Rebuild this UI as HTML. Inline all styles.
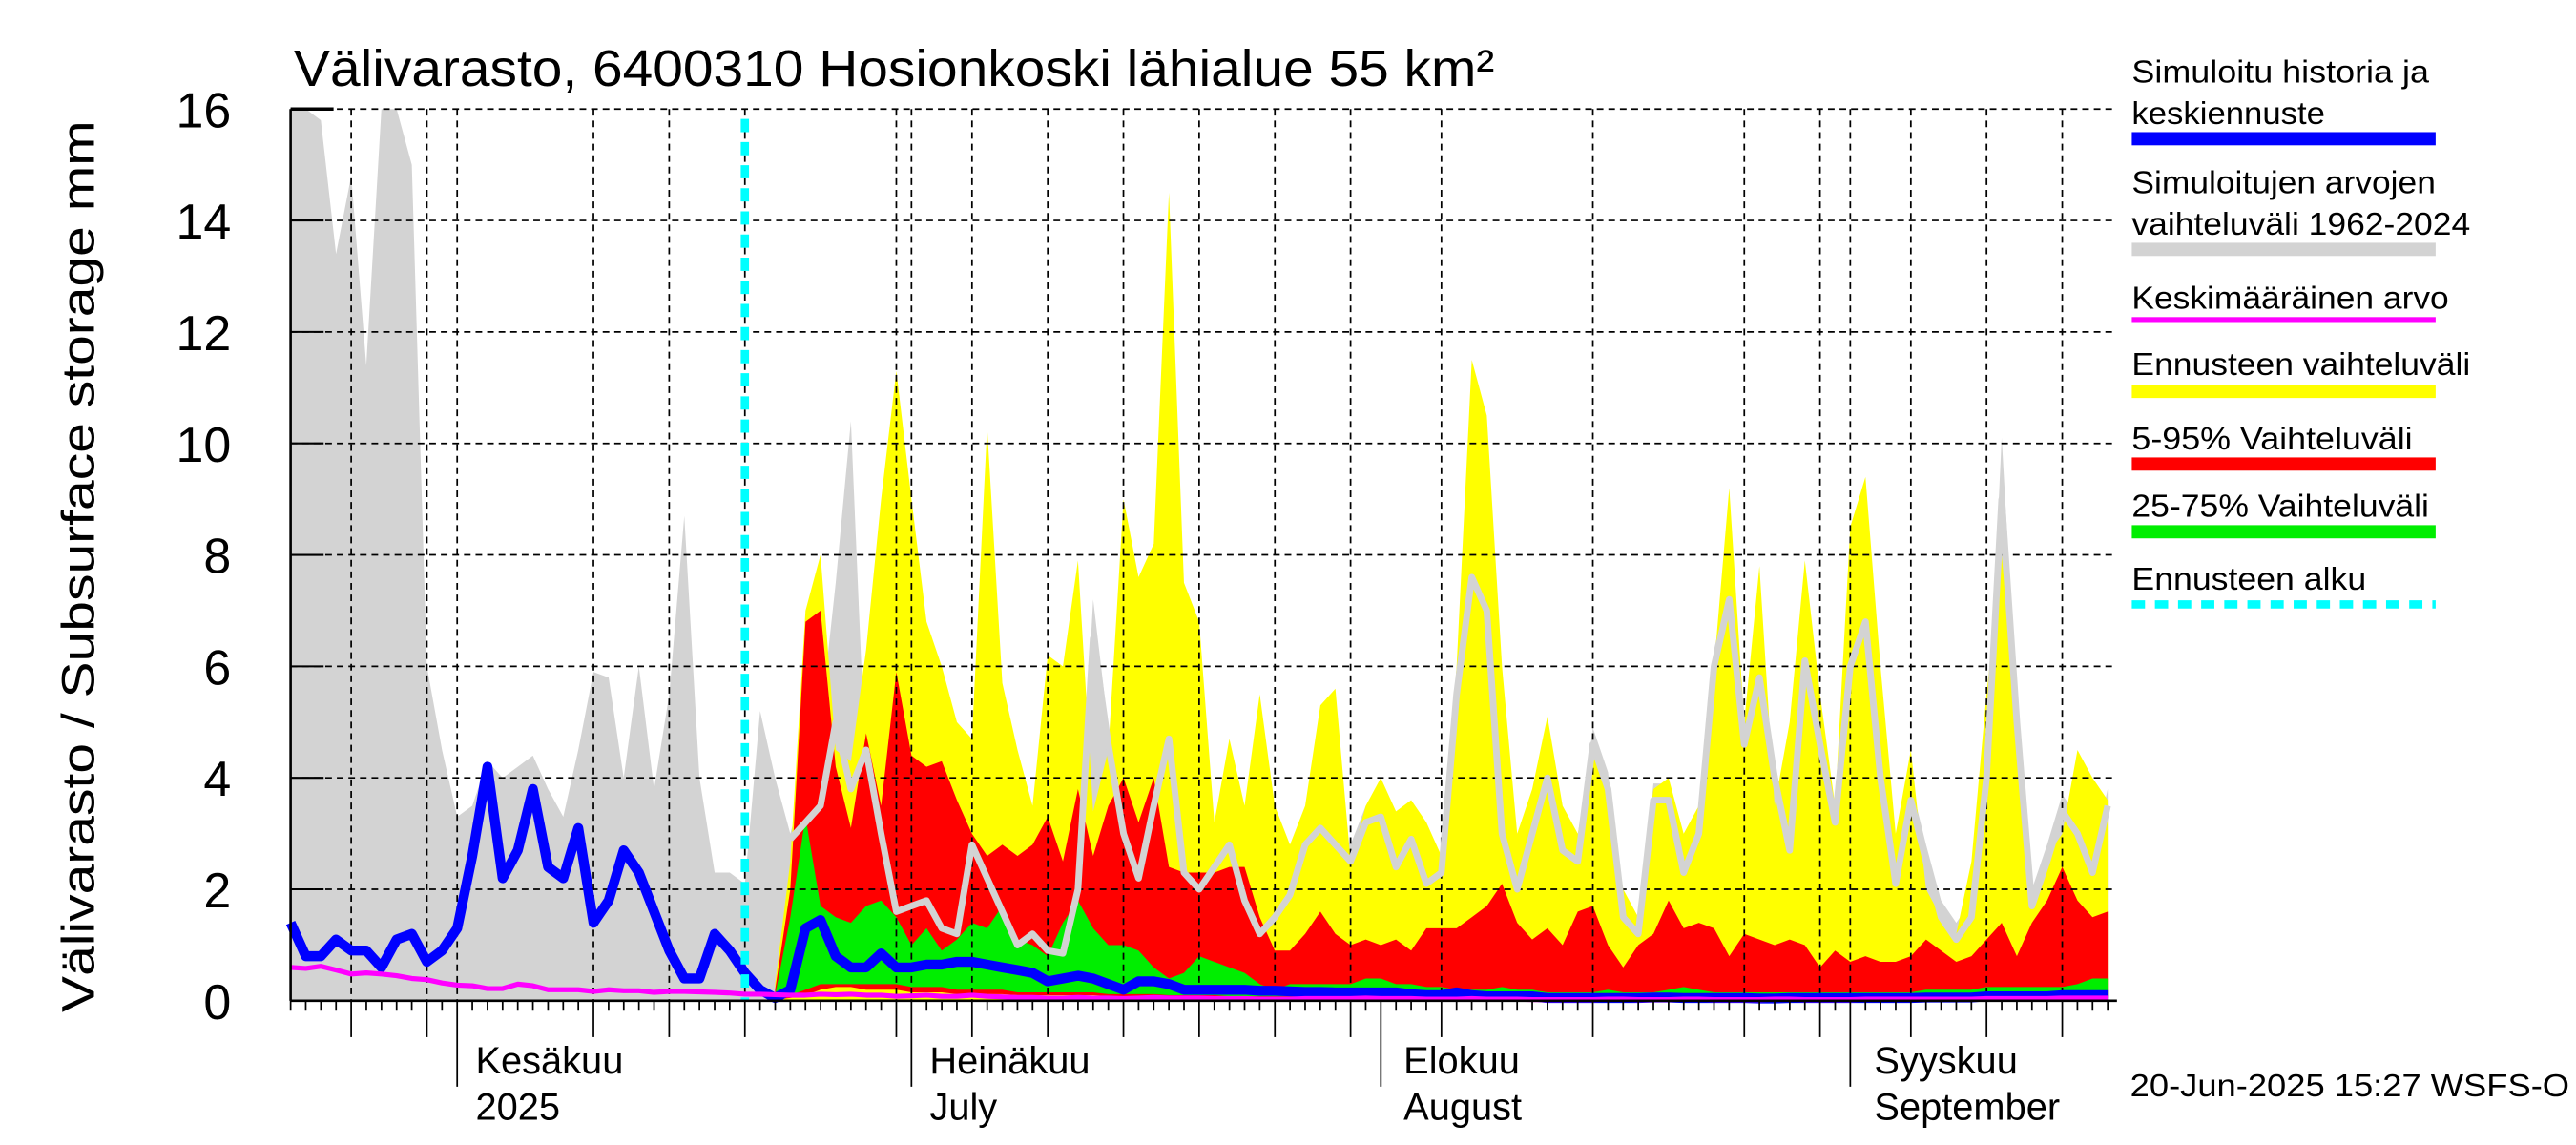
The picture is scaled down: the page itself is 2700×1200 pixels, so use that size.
<!DOCTYPE html>
<html><head><meta charset="utf-8"><style>
html,body{margin:0;padding:0;background:#fff;}
svg{display:block;font-family:"Liberation Sans",sans-serif;}
</style></head><body>
<svg id="chart" width="2700" height="1200" viewBox="0 0 1560 693.33" preserveAspectRatio="none" xmlns="http://www.w3.org/2000/svg">
<text x="178" y="52" font-size="31" textLength="727" lengthAdjust="spacingAndGlyphs">Välivarasto, 6400310 Hosionkoski lähialue 55 km²</text>
<text transform="translate(57,343) rotate(-90)" text-anchor="middle" font-size="28" textLength="540" lengthAdjust="spacingAndGlyphs">Välivarasto / Subsurface storage  mm</text>
<g id="fills"></g><g id="grid"></g><g id="lines"></g><g id="axes"></g>
<g font-size="19">
<text x="1291" y="50" textLength="180" lengthAdjust="spacingAndGlyphs">Simuloitu historia ja</text>
<text x="1291" y="75" textLength="117" lengthAdjust="spacingAndGlyphs">keskiennuste</text>
<rect x="1291" y="80" width="184" height="8" fill="#0000ff"/>
<text x="1291" y="117" textLength="184" lengthAdjust="spacingAndGlyphs">Simuloitujen arvojen</text>
<text x="1291" y="142" textLength="205" lengthAdjust="spacingAndGlyphs">vaihteluväli 1962-2024</text>
<rect x="1291" y="147" width="184" height="8" fill="#d3d3d3"/>
<text x="1291" y="187" textLength="192" lengthAdjust="spacingAndGlyphs">Keskimääräinen arvo</text>
<rect x="1291" y="192" width="184" height="3" fill="#ff00ff"/>
<text x="1291" y="227" textLength="205" lengthAdjust="spacingAndGlyphs">Ennusteen vaihteluväli</text>
<rect x="1291" y="233" width="184" height="8" fill="#ffff00"/>
<text x="1291" y="272" textLength="170" lengthAdjust="spacingAndGlyphs">5-95% Vaihteluväli</text>
<rect x="1291" y="277" width="184" height="8" fill="#ff0000"/>
<text x="1291" y="313" textLength="180" lengthAdjust="spacingAndGlyphs">25-75% Vaihteluväli</text>
<rect x="1291" y="318" width="184" height="8" fill="#00ee00"/>
<text x="1291" y="357" textLength="142" lengthAdjust="spacingAndGlyphs">Ennusteen alku</text>
<line x1="1291" y1="366" x2="1475" y2="366" stroke="#00ffff" stroke-width="5" stroke-dasharray="8,6"/>
</g>
<g font-size="23">
<text x="288" y="650">Kesäkuu</text><text x="288" y="678">2025</text>
<text x="563" y="650">Heinäkuu</text><text x="563" y="678">July</text>
<text x="850" y="650">Elokuu</text><text x="850" y="678">August</text>
<text x="1135" y="650">Syyskuu</text><text x="1135" y="678">September</text>
</g>
<text x="1290" y="664" font-size="19" textLength="266" lengthAdjust="spacingAndGlyphs">20-Jun-2025 15:27 WSFS-O</text>
</svg>
<script>
const yTicks=[0,2,4,6,8,10,12,14,16];
const forecastStartDay=30;
const fcOffset=32;
const greyMax=[16,16,15.8,13.4,14.8,11.4,16,16,15,6,4.5,3.3,3.5,4.3,4.0,4.2,4.4,3.8,3.3,4.5,5.9,5.8,4.0,6.0,3.8,5.5,8.7,4.0,2.3,2.3,2.1,5.2,4.0,3.0,4.0,5.0,7.5,10.4,4.0,4.5,3.8,
2.0,2.1,1.6,1.5,3.1,2.5,1.9,1.3,1.5,1.2,
1.1,2.3,7.2,4.9,3.3,2.5,3.8,5.0,2.6,2.3,
2.7,3.1,2.1,1.5,1.8,2.2,3.1,3.4,3.1,2.8,
3.5,3.6,2.7,3.2,2.4,2.6,5.8,7.9,7.3,3.3,
2.3,3.3,4.3,3.0,2.8,4.9,4.1,1.8,1.5,3.9,
3.9,2.6,3.3,6.3,7.5,4.9,6.1,4.3,3.0,6.4,
4.9,3.5,6.3,7.1,4.3,2.4,3.9,2.8,1.8,1.4,
1.8,4.3,10.1,5.3,2.0,2.8,3.7,3.3,2.6,3.8];
const yellowMax=[0.3,2.5,7.0,8.0,4.5,4.3,6.3,9.0,11.3,9.0,
6.8,6.0,5.0,4.7,10.3,5.7,4.5,3.5,6.2,6.0,
7.9,3.4,4.5,9.0,7.6,8.2,14.5,7.5,6.8,3.2,
4.7,3.5,5.5,3.5,2.8,3.5,5.3,5.6,2.5,3.5,
4.0,3.4,3.6,3.2,2.6,6.0,11.5,10.5,6.0,3.0,
3.8,5.1,3.5,3.0,4.5,3.8,2.0,1.5,3.8,4.0,
3.0,3.5,6.0,9.2,5.0,7.8,3.5,5.0,7.9,5.5,
3.5,8.5,9.4,6.0,3.0,4.5,2.0,1.5,1.2,2.5,
5.5,8.0,5.0,1.8,2.6,3.0,4.5,4.0,3.6];
const red95=[0.2,2.0,6.8,7.0,4.2,3.1,4.8,3.5,5.9,4.4,
4.2,4.3,3.6,3.0,2.6,2.8,2.6,2.8,3.3,2.5,
3.8,2.6,3.5,4.0,3.2,4.0,2.4,2.3,2.3,2.3,
2.4,2.4,1.5,0.9,0.9,1.2,1.6,1.2,1.0,1.1,
1.0,1.1,0.9,1.3,1.3,1.3,1.5,1.7,2.1,1.4,
1.1,1.3,1.0,1.6,1.7,1.0,0.6,1.0,1.2,1.8,
1.3,1.4,1.3,0.8,1.2,1.1,1.0,1.1,1.0,0.6,
0.9,0.7,0.8,0.7,0.7,0.8,1.1,0.9,0.7,0.8,
1.1,1.4,0.8,1.4,1.8,2.4,1.8,1.5,1.6];
const red5=[0.02,0.05,0.1,0.2,0.25,0.25,0.2,0.2,0.2,0.15,
0.15,0.15,0.12,0.12,0.12,0.12,0.1,0.1,0.1,0.1,
0.1,0.1,0.08,0.08,0.08,0.08,0.08,0.08,0.08,0.08,
0.06,0.06,0.06,0.06,0.06,0.06,0.06,0.06,0.06,0.06,
0.06,0.06,0.06,0.05,0.05,0.05,0.05,0.05,0.05,0.05,
0.05,0.05,0.05,0.05,0.05,0.05,0.05,0.05,0.05,0.05,
0.05,0.05,0.05,0.05,0.05,0.05,0.05,0.05,0.05,0.05,
0.05,0.05,0.05,0.05,0.05,0.05,0.05,0.05,0.05,0.05,
0.05,0.05,0.05,0.05,0.05,0.05,0.05,0.05,0.05];
const green75=[0.1,1.5,3.3,1.7,1.5,1.4,1.7,1.8,1.5,1.0,
1.3,0.9,1.1,1.4,1.3,1.7,1.1,1.0,0.8,1.4,
1.8,1.3,1.0,1.0,0.9,0.6,0.4,0.5,0.8,0.7,
0.6,0.5,0.3,0.2,0.3,0.3,0.3,0.3,0.3,0.4,
0.4,0.3,0.3,0.25,0.25,0.2,0.2,0.2,0.25,0.2,
0.2,0.15,0.15,0.15,0.15,0.2,0.15,0.15,0.15,0.2,
0.25,0.2,0.15,0.15,0.15,0.15,0.15,0.15,0.15,0.15,
0.15,0.15,0.15,0.15,0.15,0.15,0.2,0.2,0.2,0.2,
0.25,0.25,0.25,0.25,0.25,0.25,0.3,0.4,0.4];
const green25=[0.05,0.1,0.2,0.3,0.3,0.3,0.3,0.3,0.3,0.25,
0.25,0.25,0.2,0.2,0.2,0.2,0.15,0.15,0.15,0.15,
0.15,0.15,0.12,0.12,0.12,0.12,0.1,0.1,0.1,0.1,
0.08,0.08,0.08,0.08,0.08,0.08,0.08,0.08,0.08,0.08,
0.08,0.08,0.08,0.07,0.07,0.07,0.07,0.07,0.07,0.07,
0.07,0.07,0.07,0.07,0.07,0.07,0.07,0.07,0.07,0.07,
0.07,0.07,0.07,0.07,0.07,0.07,0.07,0.07,0.07,0.07,
0.07,0.07,0.07,0.07,0.07,0.07,0.07,0.07,0.07,0.07,
0.07,0.07,0.07,0.07,0.07,0.07,0.08,0.08,0.08];
const greyLineOffset=33;
const greyLine=[2.9,3.2,3.5,5.0,3.8,4.5,3.0,1.6,1.7,1.8,
1.3,1.2,2.8,2.2,1.6,1.0,1.2,0.9,0.85,2.0,
6.5,4.6,3.0,2.2,3.5,4.7,2.3,2.0,2.4,2.8,
1.8,1.2,1.5,1.9,2.8,3.1,2.8,2.5,3.2,3.3,
2.4,2.9,2.1,2.3,5.5,7.6,7.0,3.0,2.0,3.0,
4.0,2.7,2.5,4.6,3.8,1.5,1.2,3.6,3.6,2.3,
3.0,6.0,7.2,4.6,5.8,4.0,2.7,6.1,4.6,3.2,
6.0,6.8,4.0,2.1,3.6,2.5,1.5,1.1,1.5,4.0,
9.0,5.0,1.7,2.5,3.4,3.0,2.3,3.5];
const blueMedian=[1.4,0.8,0.8,1.1,0.9,0.9,0.6,1.1,1.2,0.7,
0.9,1.3,2.6,4.2,2.2,2.7,3.8,2.4,2.2,3.1,
1.4,1.8,2.7,2.3,1.6,0.9,0.4,0.4,1.2,0.9,
0.5,0.2,0.05,0.2,1.3,1.45,0.8,0.6,0.6,0.85,
0.6,0.6,0.65,0.65,0.7,0.7,0.65,0.6,0.55,0.5,
0.35,0.4,0.45,0.4,0.3,0.2,0.35,0.35,0.3,0.2,
0.2,0.2,0.2,0.2,0.18,0.18,0.17,0.16,0.16,0.15,
0.15,0.15,0.15,0.15,0.12,0.1,0.1,0.15,0.1,0.08,
0.08,0.08,0.08,0.05,0.05,0.05,0.05,0.05,0.05,0.05,
0.06,0.06,0.05,0.05,0.05,0.05,0.05,0.04,0.04,0.05,
0.05,0.05,0.05,0.05,0.05,0.05,0.05,0.05,0.06,0.06,
0.06,0.06,0.08,0.08,0.08,0.08,0.08,0.1,0.1,0.1,0.1];
const meanValue=[0.6,0.58,0.62,0.55,0.48,0.5,0.48,0.45,0.4,0.38,
0.32,0.28,0.27,0.22,0.22,0.3,0.27,0.2,0.2,0.2,
0.17,0.2,0.18,0.18,0.15,0.17,0.17,0.16,0.15,0.14,
0.12,0.12,0.11,0.1,0.1,0.12,0.11,0.12,0.1,0.1,
0.08,0.09,0.1,0.08,0.08,0.1,0.08,0.07,0.06,0.06,
0.05,0.05,0.06,0.05,0.05,0.04,0.05,0.06,0.05,0.05,
0.05,0.04,0.04,0.04,0.03,0.03,0.03,0.04,0.04,0.04,
0.04,0.05,0.04,0.04,0.04,0.03,0.03,0.03,0.04,0.03,
0.03,0.03,0.02,0.02,0.02,0.02,0.02,0.03,0.03,0.02,
0.02,0.02,0.03,0.03,0.02,0.02,0.02,0.02,0.03,0.03,
0.02,0.02,0.02,0.02,0.03,0.03,0.03,0.03,0.03,0.03,
0.03,0.03,0.04,0.04,0.04,0.04,0.04,0.05,0.05,0.05,0.05];
const monthStartDays=[11,41,72,103];
const gridDays=[4,9,11,20,25,30,40,41,45,50,55,60,65,70,76,86,96,101,103,107,112,117];

const NS="http://www.w3.org/2000/svg";
const X0=176,DX=9.17,Y0=606,DY=33.75,XL=176,XR=1282;
const xs=d=>X0+d*DX;
const ys=v=>Y0-Math.min(v,16)*DY;
function mk(tag,attrs,parent){const e=document.createElementNS(NS,tag);for(const k in attrs)e.setAttribute(k,attrs[k]);parent.appendChild(e);return e;}
const fills=document.getElementById('fills'),grid=document.getElementById('grid'),lines=document.getElementById('lines'),axes=document.getElementById('axes');
function band(upper,lower,off,color,name){
  let p=[];
  for(let i=0;i<upper.length;i++)p.push(xs(i+off).toFixed(1)+','+ys(upper[i]).toFixed(1));
  for(let i=upper.length-1;i>=0;i--){const lv=lower?lower[i]:0;p.push(xs(i+off).toFixed(1)+','+ys(lv).toFixed(1));}
  const e=mk('polygon',{points:p.join(' '),fill:color},fills);
  
  
}
band(greyMax,null,0,'#d3d3d3','history-range-area');
band(yellowMax,null,fcOffset,'#ffff00','forecast-range-area');
band(red95,red5,fcOffset,'#ff0000','range-5-95-area');
band(green75,green25,fcOffset,'#00ee00','range-25-75-area');
for(const t of yTicks){if(t===0)continue;
  const l=mk('line',{x1:XL,x2:XR,y1:ys(t),y2:ys(t),stroke:'#000','stroke-width':1,'stroke-dasharray':'4,3'},grid);
  
  
  const s=mk('line',{x1:XL,x2:XL+20,y1:ys(t),y2:ys(t),stroke:'#000','stroke-width':1.2},grid);
  
  
}
for(const d of gridDays){
  const l=mk('line',{x1:xs(d),x2:xs(d),y1:ys(16),y2:Y0,stroke:'#000','stroke-width':1,'stroke-dasharray':'4,3'},grid);
  
  
}
function polyline(arr,off,color,w,name){
  const p=arr.map((v,i)=>xs(i+off).toFixed(1)+','+ys(v).toFixed(1)).join(' ');
  const e=mk('polyline',{points:p,fill:'none',stroke:color,'stroke-width':w,'stroke-linejoin':'round'},lines);
  
  
}
polyline(greyLine,greyLineOffset,'#d3d3d3',4,'historic-year-line');
polyline(blueMedian,0,'#0000ff',6,'simulated-median-line');
polyline(meanValue,0,'#ff00ff',3,'mean-value-line');
const fc=mk('line',{x1:xs(forecastStartDay),x2:xs(forecastStartDay),y1:72,y2:Y0,stroke:'#00ffff','stroke-width':5,'stroke-dasharray':'8,6'},lines);


mk('line',{x1:XL,x2:XL,y1:ys(16),y2:Y0,stroke:'#000','stroke-width':1.5},axes);
mk('line',{x1:XL,x2:XR,y1:Y0,y2:Y0,stroke:'#000','stroke-width':1.5},axes);
mk('line',{x1:XL,x2:XL+26,y1:ys(16),y2:ys(16),stroke:'#000','stroke-width':2},axes);
for(const t of yTicks){
  const tx=mk('text',{x:140,y:ys(t)+11,'font-size':30,'text-anchor':'end'},axes);
  tx.textContent=t;
  
  
}
for(let d=0;d<=120;d++){
  let len=6;
  if(gridDays.includes(d))len=22;
  if(monthStartDays.includes(d))len=52;
  const t=mk('line',{x1:xs(d),x2:xs(d),y1:Y0,y2:Y0+len,stroke:'#000','stroke-width':1},axes);
  
  
}
</script>
</body></html>
